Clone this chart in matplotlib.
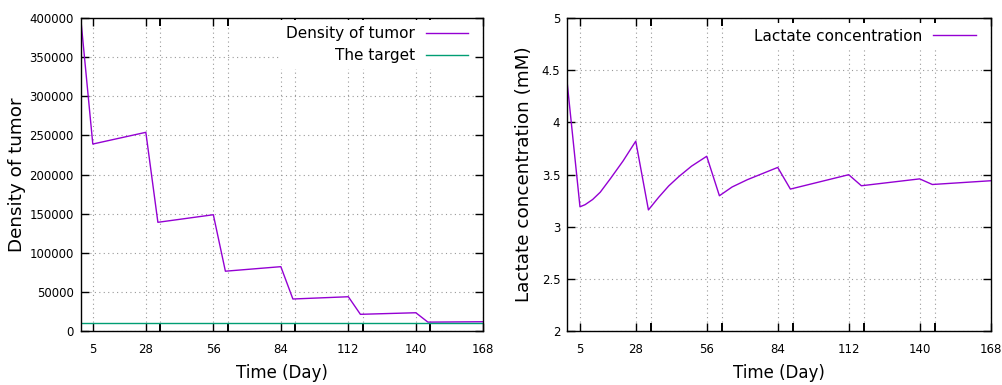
import matplotlib.pyplot as plt

# Tumor density (left panel)
days_tumor = [1, 6, 28, 33, 56, 61, 84, 89, 112, 117, 140, 145, 168]
tumor = [400000, 239000, 254000, 138800, 148500, 76200, 82000, 40600, 43500, 21000, 23000, 11000, 11500]
target = 10000

# Lactate concentration (right panel)
days_lac = [1, 6, 8, 11, 14, 18, 23, 28, 33, 37, 41, 45, 50, 56, 61, 66, 72, 84, 89, 112, 117, 140, 145, 168]
lactate = [4.37, 3.19, 3.21, 3.26, 3.33, 3.46, 3.63, 3.82, 3.16, 3.28, 3.39, 3.48, 3.58, 3.675, 3.296,
           3.38, 3.45, 3.568, 3.36, 3.498, 3.392, 3.458, 3.404, 3.44]

tick_pos = [6, 28, 34, 56, 62, 84, 90, 112, 118, 140, 146, 168]
tick_lab = ['5', '28', '', '56', '', '84', '', '112', '', '140', '', '168']

purple = '#9400d3'
green = '#009e73'

fig = plt.figure(figsize=(10.03, 3.85), dpi=100)
ax1 = fig.add_axes([0.0805, 0.141, 0.4014, 0.8115])
ax2 = fig.add_axes([0.5656, 0.141, 0.4221, 0.8115])


def style_axes(ax, yticks, ylabels, ylabel, ylab_x):
    ax.set_xlim(1, 168)
    ax.set_xticks(tick_pos)
    ax.set_xticklabels(tick_lab, fontsize=8.5)
    ax.set_yticks(yticks)
    ax.set_yticklabels(ylabels, fontsize=8.5)
    ax.tick_params(direction='in', length=6, width=1, top=True, right=True)
    ax.tick_params(axis='x', pad=9)
    ax.tick_params(axis='y', pad=5)
    for i, t in enumerate(ax.xaxis.get_major_ticks()):
        if tick_lab[i] == '':
            t.tick1line.set_color('#808080')
            t.tick2line.set_color('#808080')
            t.tick1line.set_markeredgewidth(1.4)
            t.tick2line.set_markeredgewidth(1.4)
    ax.grid(True, linestyle=(0, (1, 3)), color='#999999', linewidth=0.8)
    ax.set_axisbelow(True)
    for s in ax.spines.values():
        s.set_linewidth(1.0)
    ax.set_xlabel('Time (Day)', fontsize=12, va='center')
    ax.xaxis.set_label_coords(0.5, -0.136)
    ax.set_ylabel(ylabel, fontsize=13.2, va='center')
    ax.yaxis.set_label_coords(ylab_x, 0.5)


ax1.plot(days_tumor, tumor, color=purple, lw=1, label='Density of tumor')
ax1.plot([1, 168], [target, target], color=green, lw=1, label='The target')
ax1.set_ylim(0, 400000)
y1 = list(range(0, 400001, 50000))
style_axes(ax1, y1, [str(v) for v in y1], 'Density of tumor', -0.159)
ax1.legend(loc='upper right', bbox_to_anchor=(0.978, 0.995), markerfirst=False, frameon=True,
           facecolor='white', edgecolor='none', framealpha=1, fancybox=False,
           fontsize=11, handlelength=2.8, borderaxespad=0,
           labelspacing=0.46, handletextpad=0.7)

ax2.plot(days_lac, lactate, color=purple, lw=1, label='Lactate concentration')
ax2.set_ylim(2, 5)
y2 = [2, 2.5, 3, 3.5, 4, 4.5, 5]
style_axes(ax2, y2, ['2', '2.5', '3', '3.5', '4', '4.5', '5'], 'Lactate concentration (mM)', -0.102)
ax2.legend(loc='upper right', bbox_to_anchor=(0.979, 0.986), markerfirst=False, frameon=True,
           facecolor='white', edgecolor='none', framealpha=1, fancybox=False,
           fontsize=11, handlelength=2.8, borderaxespad=0,
           handletextpad=0.7)

fig.savefig('out.png', dpi=100)
